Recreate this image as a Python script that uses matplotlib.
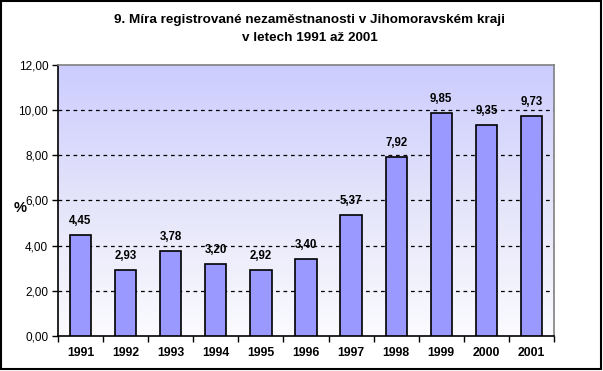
import matplotlib
matplotlib.use("Agg")
import matplotlib.pyplot as plt
import numpy as np
from matplotlib.colors import LinearSegmentedColormap
from matplotlib.patches import Rectangle

years = ["1991", "1992", "1993", "1994", "1995", "1996", "1997", "1998", "1999", "2000", "2001"]
values = [4.45, 2.93, 3.78, 3.20, 2.92, 3.40, 5.37, 7.92, 9.85, 9.35, 9.73]
yticks = [0, 2, 4, 6, 8, 10, 12]

plt.rcParams['font.family'] = ['Liberation Sans', 'DejaVu Sans']

fig = plt.figure(figsize=(6.03, 3.71), dpi=100)
ax = fig.add_axes([58/603, 1 - 336/371, (554-58)/603, (336-64.7)/371])

# background gradient of the plot area
cmap = LinearSegmentedColormap.from_list("bg", ["#fbfbff", "#e4e4fa", "#ccccff"])
grad = np.linspace(0, 1, 256).reshape(-1, 1)
x = np.arange(len(years))
ax.imshow(grad, aspect="auto", cmap=cmap, origin="lower",
          extent=[-0.5, len(years) - 0.5, 0, 12], zorder=0)

ax.bar(x, values, width=0.47, color="#9999ff", edgecolor="black", linewidth=1.2, zorder=3)
for xi, v in zip(x, values):
    ax.text(xi, v + 0.35, f"{v:.2f}".replace(".", ","), ha="center", va="bottom",
            fontsize=8.3, fontweight="bold", zorder=4)

ax.set_xlim(-0.5, len(years) - 0.5)
ax.set_ylim(0, 12)
ax.set_yticks(yticks)
ax.set_yticklabels([f"{t:.2f}".replace(".", ",") for t in yticks], fontsize=8.5)
for t in yticks[1:-1]:
    ax.axhline(t, color="black", linestyle=(0, (3, 3)), linewidth=0.9, zorder=2)

ax.set_xticks(x)
ax.set_xticklabels(years, fontsize=8.8, fontweight="bold")
ax.set_xticks(np.arange(-0.5, len(years)), minor=True)
ax.tick_params(axis="x", which="major", length=0, pad=8)
ax.tick_params(axis="x", which="minor", length=4, direction="out", width=1)
ax.tick_params(axis="y", length=4, direction="out", width=1, pad=3)

for s in ["left", "bottom"]:
    ax.spines[s].set_color("black")
    ax.spines[s].set_linewidth(1.2)
for s in ["top", "right"]:
    ax.spines[s].set_color("#808080")
    ax.spines[s].set_linewidth(1.2)

fig.text(14/603, 1 - 208/371, "%", fontsize=10.5, fontweight="bold", ha="left", va="center")
fig.text(310/603, 1 - 20/371, "9. Míra registrované nezaměstnanosti v Jihomoravském kraji",
         ha="center", va="center", fontsize=9.7, fontweight="bold")
fig.text(310/603, 1 - 38/371, "v letech 1991 až 2001",
         ha="center", va="center", fontsize=9.7, fontweight="bold")

fig.patches.append(Rectangle((0.002, 0.006), 0.994, 0.99, transform=fig.transFigure,
                             fill=False, edgecolor="black", linewidth=1.5))

fig.savefig("out.png", dpi=100)
